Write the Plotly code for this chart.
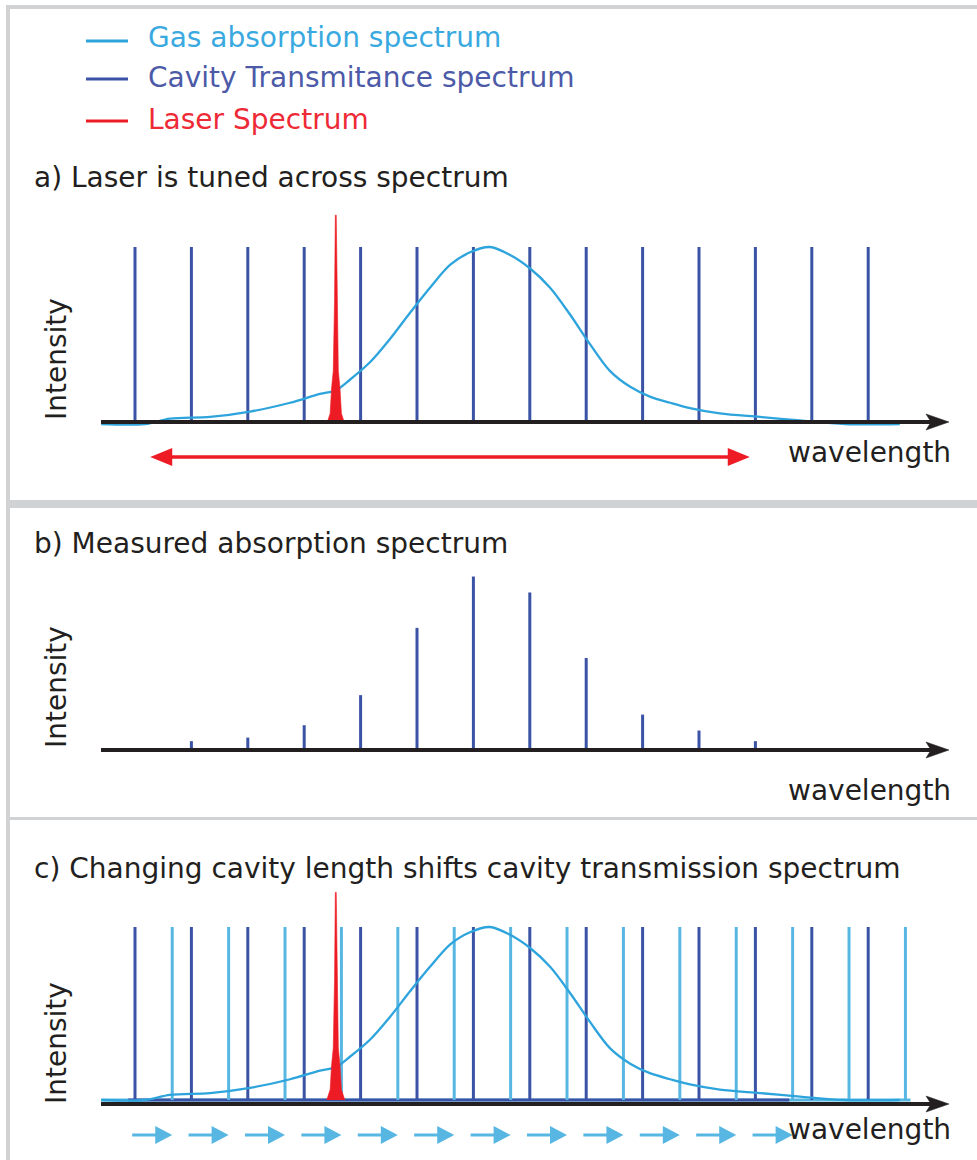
import plotly.graph_objects as go

W, H = 977, 1160

# ---------------- data (wavelength in arbitrary units, intensity relative to a cavity mode) ----------------
cavity_modes = [1, 2, 3, 4, 5, 6, 7, 8, 9, 10, 11, 12, 13, 14]
cavity_heights = [1.0, 1.0, 1.0, 1.0, 1.0, 1.0, 1.0, 1.0, 1.0, 1.0, 1.0, 1.0, 1.0, 1.0]
shifted_modes = [1.66, 2.66, 3.66, 4.66, 5.66, 6.66, 7.66, 8.66, 9.66, 10.66, 11.66, 12.66, 13.66, 14.66]
shifted_heights = [1.0, 1.0, 1.0, 1.0, 1.0, 1.0, 1.0, 1.0, 1.0, 1.0, 1.0, 1.0, 1.0, 1.0]

measured_modes = [2, 3, 4, 5, 6, 7, 8, 9, 10, 11, 12]
measured_heights = [0.05, 0.07, 0.14, 0.31, 0.69, 0.98, 0.89, 0.52, 0.20, 0.11, 0.05]

gas_x = [0.40, 1.18, 1.62, 2.33, 3.04, 3.75, 4.28, 4.56, 4.81, 5.17, 5.52, 5.88, 6.23,
         6.59, 6.94, 7.29, 7.65, 8.00, 8.36, 8.71, 9.07, 9.42, 9.78, 10.13, 10.49,
         10.84, 11.37, 12.08, 12.79, 13.59, 14.56]
gas_y = [0.0, 0.0, 0.03, 0.04, 0.07, 0.12, 0.17, 0.19, 0.25, 0.35, 0.48, 0.63, 0.77,
         0.90, 0.97, 1.0, 0.955, 0.88, 0.77, 0.62, 0.45, 0.30, 0.21, 0.155, 0.12,
         0.09, 0.06, 0.04, 0.02, 0.0, 0.0]

laser_center = 4.56
laser_offsets = [-0.16, -0.10, -0.075, -0.045, -0.022, -0.008, 0.008, 0.022, 0.045, 0.075, 0.10, 0.16]
laser_profile_a = [0.0, 0.06, 0.20, 0.30, 0.70, 1.18, 1.18, 0.70, 0.30, 0.20, 0.06, 0.0]
laser_profile_c = [0.0, 0.06, 0.20, 0.30, 0.70, 1.20, 1.20, 0.70, 0.30, 0.20, 0.06, 0.0]

tuning_range = [1.27, 11.90]
shift_arrow_modes = [1, 2, 3, 4, 5, 6, 7, 8, 9, 10, 11, 12]
mode_shift = 0.66
baseline_c_dark = [0.88, 12.60]
baseline_c_light = [0.40, 14.75]

legend_labels = ["Gas absorption spectrum", "Cavity Transmitance spectrum", "Laser Spectrum"]
panel_titles = ["a) Laser is tuned across spectrum",
                "b) Measured absorption spectrum",
                "c) Changing cavity length shifts cavity transmission spectrum"]
axis_label_x = "wavelength"
axis_label_y = "Intensity"

# ---------------- colours ----------------
C_GAS = "#2ea4dd"
C_CAV = "#3a53a4"
C_CAV2 = "#58b7e2"
C_LASER = "#ed1c24"
C_AX = "#231f20"
C_FRAME = "#d1d2d4"
FONT = "DejaVu Sans"

# ---------------- geometry (pixels) ----------------
PX_MODE1, PX_UNIT = 135.0, 56.4
x_range = [1 - PX_MODE1 / PX_UNIT, 1 + (W - PX_MODE1) / PX_UNIT]
panels = {  # base pixel (intensity 0), pixels per intensity unit, axis-line pixel
    "y": dict(base=424.0, unit=177.0, axis=422.0),
    "y2": dict(base=750.0, unit=177.0, axis=750.0),
    "y3": dict(base=1100.0, unit=173.0, axis=1104.0),
}


def uy(py, p):
    return (p["base"] - py) / p["unit"]


def PX(px):
    return px / W


def PY(py):
    return 1 - py / H


fig = go.Figure()


def spikes(modes, heights, yaxis, color, width=3):
    xs, ys = [], []
    for m, h in zip(modes, heights):
        xs += [m, m, None]
        ys += [0, h, None]
    fig.add_trace(go.Scatter(x=xs, y=ys, mode="lines", yaxis=yaxis, hoverinfo="skip",
                             line=dict(color=color, width=width)))


def gas(yaxis):
    fig.add_trace(go.Scatter(x=gas_x, y=gas_y, mode="lines", yaxis=yaxis, hoverinfo="skip",
                             line=dict(color=C_GAS, width=2.3, shape="spline", smoothing=0.9)))


def laser(profile, yaxis):
    fig.add_trace(go.Scatter(x=[laser_center + o for o in laser_offsets], y=profile,
                             mode="lines", fill="toself", fillcolor=C_LASER, yaxis=yaxis,
                             hoverinfo="skip", line=dict(color=C_LASER, width=0.6)))


# panel a
spikes(cavity_modes, cavity_heights, "y", C_CAV)
gas("y")
laser(laser_profile_a, "y")

# panel b
spikes(measured_modes, measured_heights, "y2", C_CAV)

# panel c
fig.add_trace(go.Scatter(x=baseline_c_light, y=[0, 0], mode="lines", yaxis="y3", hoverinfo="skip",
                         line=dict(color=C_CAV2, width=3)))
fig.add_trace(go.Scatter(x=baseline_c_dark, y=[0, 0], mode="lines", yaxis="y3", hoverinfo="skip",
                         line=dict(color=C_CAV, width=3)))
spikes(shifted_modes, shifted_heights, "y3", C_CAV2)
spikes(cavity_modes, cavity_heights, "y3", C_CAV)
gas("y3")
laser(laser_profile_c, "y3")

shapes = []
annotations = []

# frame
for x0, x1, y0, y1 in [(6, 10, 5, H), (6, W, 5, 9), (6, W, 500, 508), (6, W, 817, 820)]:
    shapes.append(dict(type="rect", xref="paper", yref="paper", x0=PX(x0), x1=PX(x1),
                       y0=PY(y0), y1=PY(y1), fillcolor=C_FRAME, line=dict(width=0), layer="below"))

# axes with arrow heads
for key, p in panels.items():
    ay = p["axis"]
    shapes.append(dict(type="line", xref="paper", yref="paper", x0=PX(101), x1=PX(934),
                       y0=PY(ay), y1=PY(ay), line=dict(color=C_AX, width=4), layer="above"))
    shapes.append(dict(type="path", xref="paper", yref="paper", layer="above",
                       path=f"M {PX(926)},{PY(ay-8)} L {PX(949)},{PY(ay)} L {PX(926)},{PY(ay+8)} L {PX(931)},{PY(ay)} Z",
                       fillcolor=C_AX, line=dict(color=C_AX, width=0.5)))


def arrow_path(x_tail, x_tip, yv, head_len, head_half, shaft_half):
    xb = x_tip - head_len
    return (f"M {x_tail},{yv - shaft_half} L {xb},{yv - shaft_half} L {xb},{yv - head_half} "
            f"L {x_tip},{yv} L {xb},{yv + head_half} L {xb},{yv + shaft_half} "
            f"L {x_tail},{yv + shaft_half} Z")


# red tuning double arrow (panel a)
pa = panels["y"]
yv = uy(457, pa)
hl = 22 / PX_UNIT
hh = 9 / pa["unit"]
sh = 1.7 / pa["unit"]
x0, x1 = tuning_range
shapes.append(dict(type="path", xref="x", yref="y", fillcolor=C_LASER, line=dict(width=0),
                   path=(f"M {x0},{yv} L {x0 + hl},{yv + hh} L {x0 + hl},{yv + sh} L {x1 - hl},{yv + sh} "
                         f"L {x1 - hl},{yv + hh} L {x1},{yv} L {x1 - hl},{yv - hh} L {x1 - hl},{yv - sh} "
                         f"L {x0 + hl},{yv - sh} L {x0 + hl},{yv - hh} Z")))

# blue shift arrows (panel c)
pc = panels["y3"]
yv = uy(1135, pc)
for m in shift_arrow_modes:
    shapes.append(dict(type="path", xref="x", yref="y3", fillcolor=C_CAV2, line=dict(width=0),
                       path=arrow_path(m - 0.05, m + mode_shift, yv, 17 / PX_UNIT,
                                       9 / pc["unit"], 1.6 / pc["unit"])))

# legend
leg_colors = [C_GAS, C_CAV, C_LASER]
leg_text_colors = ["#3aa9e0", "#4c5aa8", "#ee2a36"]
leg_line_y = [41, 79, 121]
leg_text_y = [37, 78, 119]
for lab, c, tc, ly, ty in zip(legend_labels, leg_colors, leg_text_colors, leg_line_y, leg_text_y):
    shapes.append(dict(type="line", xref="paper", yref="paper", x0=PX(86), x1=PX(128),
                       y0=PY(ly), y1=PY(ly), line=dict(color=c, width=3)))
    annotations.append(dict(text=lab, xref="paper", yref="paper", x=PX(146), y=PY(ty),
                            xanchor="left", yanchor="middle", showarrow=False,
                            font=dict(family=FONT, size=28, color=tc)))

# titles
for t, ty in zip(panel_titles, [177, 543, 868]):
    annotations.append(dict(text=t, xref="paper", yref="paper", x=PX(32), y=PY(ty),
                            xanchor="left", yanchor="middle", showarrow=False,
                            font=dict(family=FONT, size=28, color=C_AX)))

# axis labels
for wy in [452, 791, 1129]:
    annotations.append(dict(text=axis_label_x, xref="paper", yref="paper", x=PX(953), y=PY(wy),
                            xanchor="right", yanchor="middle", showarrow=False,
                            font=dict(family=FONT, size=28, color=C_AX)))
for iy in [359, 687, 1043]:
    annotations.append(dict(text=axis_label_y, xref="paper", yref="paper", x=PX(56), y=PY(iy),
                            xanchor="center", yanchor="middle", showarrow=False, textangle=-90,
                            font=dict(family=FONT, size=28, color=C_AX)))


def yax(p, **kw):
    return dict(range=[uy(H, p), uy(0, p)], visible=False, fixedrange=True, domain=[0, 1], **kw)


fig.update_layout(
    width=W, height=H, margin=dict(l=0, r=0, t=0, b=0),
    paper_bgcolor="white", plot_bgcolor="rgba(0,0,0,0)", showlegend=False,
    xaxis=dict(range=x_range, visible=False, fixedrange=True, domain=[0, 1]),
    yaxis=yax(panels["y"]),
    yaxis2=yax(panels["y2"], overlaying="y"),
    yaxis3=yax(panels["y3"], overlaying="y"),
    shapes=shapes, annotations=annotations,
)

fig.write_html("out.html")
